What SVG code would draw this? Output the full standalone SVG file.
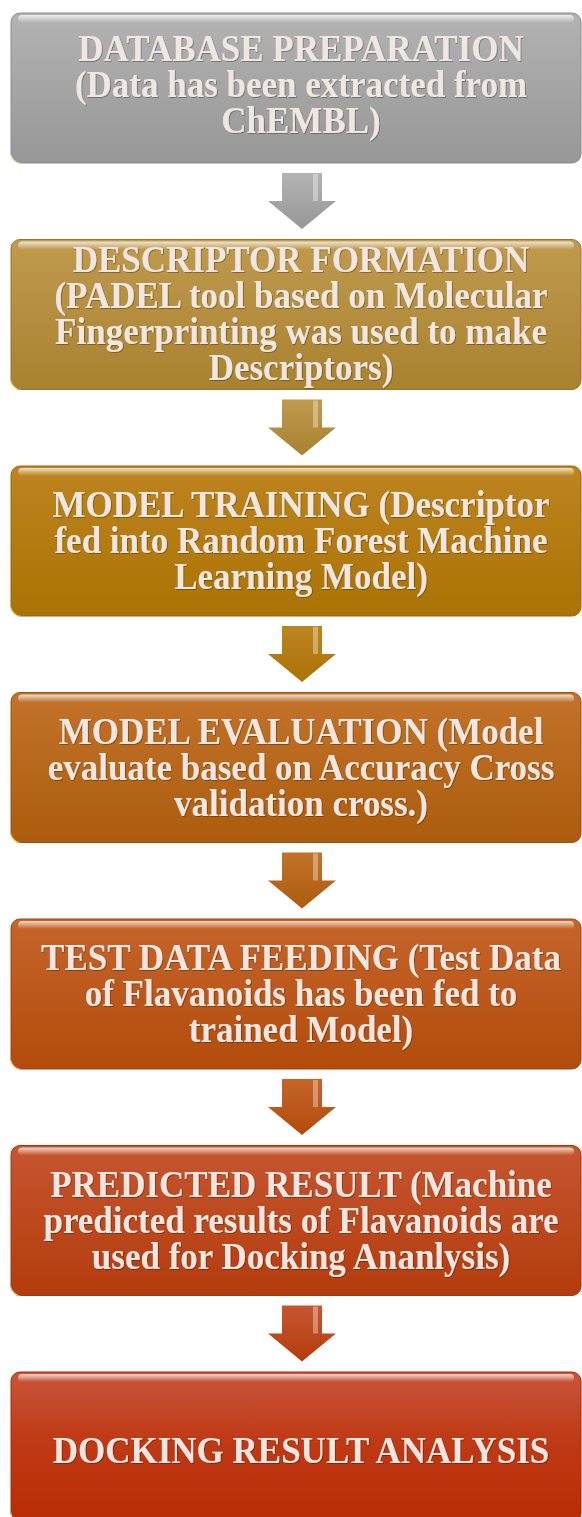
<svg xmlns="http://www.w3.org/2000/svg" width="582" height="1517" viewBox="0 0 582 1517">
  <style>
    .box { stroke-width: 1; }
    .curl { fill: #fff3b0; opacity: 0.85; }
    .label { font-family: "Liberation Serif", "Times New Roman", serif; font-weight: bold; font-size: 35px; fill: #f1e7e2; text-anchor: middle; filter: url(#txtShadow); }
    .shine { fill: #ffffff; opacity: 0.35; }
  </style>
  <defs>
    <filter id="txtShadow" x="-5%" y="-20%" width="110%" height="140%">
      <feDropShadow dx="0.8" dy="0.8" stdDeviation="0.7" flood-color="#000000" flood-opacity="0.35"/>
    </filter>
    <linearGradient id="gGray" x1="0" y1="0" x2="0" y2="1">
      <stop offset="0" stop-color="#b3b3b3"/><stop offset="1" stop-color="#979797"/>
    </linearGradient>
    <linearGradient id="gTan" x1="0" y1="0" x2="0" y2="1">
      <stop offset="0" stop-color="#c09a4e"/><stop offset="1" stop-color="#a9822f"/>
    </linearGradient>
    <linearGradient id="gGold" x1="0" y1="0" x2="0" y2="1">
      <stop offset="0" stop-color="#bd8420"/><stop offset="1" stop-color="#ab7304"/>
    </linearGradient>
    <linearGradient id="gAmber" x1="0" y1="0" x2="0" y2="1">
      <stop offset="0" stop-color="#c2732a"/><stop offset="1" stop-color="#ac5c0c"/>
    </linearGradient>
    <linearGradient id="gOrange" x1="0" y1="0" x2="0" y2="1">
      <stop offset="0" stop-color="#c6642a"/><stop offset="1" stop-color="#b24c0c"/>
    </linearGradient>
    <linearGradient id="gRust" x1="0" y1="0" x2="0" y2="1">
      <stop offset="0" stop-color="#c65530"/><stop offset="1" stop-color="#b33c0c"/>
    </linearGradient>
    <linearGradient id="gRed" x1="0" y1="0" x2="0" y2="1">
      <stop offset="0" stop-color="#c9553a"/><stop offset="0.45" stop-color="#bf3a16"/><stop offset="1" stop-color="#b82c04"/>
    </linearGradient>
    <linearGradient id="glossGrad" x1="0" y1="0" x2="0" y2="1">
      <stop offset="0" stop-color="#ffffff" stop-opacity="0.75"/><stop offset="1" stop-color="#ffffff" stop-opacity="0"/>
    </linearGradient>
    <path id="arrowShape" d="M-20,0 H20 V28 H34 L0,56 L-34,28 H-20 Z"/>
  </defs>

  <rect width="582" height="1517" fill="#ffffff"/>

  <!-- connectors: block arrows between steps -->
  <g id="connectors">
    <g transform="translate(302,173)">
      <use href="#arrowShape" fill="url(#gGray)"/>
      <rect class="shine" x="11" y="1" width="5" height="27"/>
    </g>
    <g transform="translate(302,399.5)">
      <use href="#arrowShape" fill="url(#gTan)"/>
      <rect class="shine" x="11" y="1" width="5" height="27"/>
    </g>
    <g transform="translate(302,626)">
      <use href="#arrowShape" fill="url(#gGold)"/>
      <rect class="shine" x="11" y="1" width="5" height="27"/>
    </g>
    <g transform="translate(302,852.5)">
      <use href="#arrowShape" fill="url(#gAmber)"/>
      <rect class="shine" x="11" y="1" width="5" height="27"/>
    </g>
    <g transform="translate(302,1079)">
      <use href="#arrowShape" fill="url(#gOrange)"/>
      <rect class="shine" x="11" y="1" width="5" height="27"/>
    </g>
    <g transform="translate(302,1305.5)">
      <use href="#arrowShape" fill="url(#gRust)"/>
      <rect class="shine" x="11" y="1" width="5" height="27"/>
    </g>
  </g>

  <g id="step1">
    <rect class="box" x="11" y="13" width="570" height="150" rx="9" fill="url(#gGray)" stroke="#8c8c8c"/>
    <rect x="18" y="15" width="556" height="8" rx="4" fill="url(#glossGrad)"/>
    <path class="curl" d="M11,152 a11,11 0 0 0 11,11 h-4 a7,7 0 0 1 -7,-7 z"/>
    <text class="label" transform="translate(301,61) scale(1,1.1)">DATABASE PREPARATION</text>
    <text class="label" transform="translate(301,97) scale(1,1.1)">(Data has been extracted from</text>
    <text class="label" transform="translate(301,133) scale(1,1.1)">ChEMBL)</text>
  </g>

  <g id="step2">
    <rect class="box" x="11" y="239.5" width="570" height="150" rx="9" fill="url(#gTan)" stroke="#9a7428"/>
    <rect x="18" y="241.5" width="556" height="8" rx="4" fill="url(#glossGrad)"/>
    <path class="curl" d="M11,378.5 a11,11 0 0 0 11,11 h-4 a7,7 0 0 1 -7,-7 z"/>
    <text class="label" transform="translate(301,272) scale(1,1.1)">DESCRIPTOR FORMATION</text>
    <text class="label" transform="translate(301,308) scale(1,1.1)">(PADEL tool based on Molecular</text>
    <text class="label" transform="translate(301,344) scale(1,1.1)">Fingerprinting was used to make</text>
    <text class="label" transform="translate(301,380) scale(1,1.1)">Descriptors)</text>
  </g>

  <g id="step3">
    <rect class="box" x="11" y="466" width="570" height="150" rx="9" fill="url(#gGold)" stroke="#9a6804"/>
    <rect x="18" y="468" width="556" height="8" rx="4" fill="url(#glossGrad)"/>
    <path class="curl" d="M11,605 a11,11 0 0 0 11,11 h-4 a7,7 0 0 1 -7,-7 z"/>
    <text class="label" transform="translate(301,517) scale(1,1.1)">MODEL TRAINING (Descriptor</text>
    <text class="label" transform="translate(301,553) scale(1,1.1)">fed into Random Forest Machine</text>
    <text class="label" transform="translate(301,589) scale(1,1.1)">Learning Model)</text>
  </g>

  <g id="step4">
    <rect class="box" x="11" y="692.5" width="570" height="150" rx="9" fill="url(#gAmber)" stroke="#9c520a"/>
    <rect x="18" y="694.5" width="556" height="8" rx="4" fill="url(#glossGrad)"/>
    <path class="curl" d="M11,831.5 a11,11 0 0 0 11,11 h-4 a7,7 0 0 1 -7,-7 z"/>
    <text class="label" transform="translate(301,743.5) scale(1,1.1)">MODEL EVALUATION (Model</text>
    <text class="label" transform="translate(301,779.5) scale(1,1.1)">evaluate based on Accuracy Cross</text>
    <text class="label" transform="translate(301,815.5) scale(1,1.1)">validation cross.)</text>
  </g>

  <g id="step5">
    <rect class="box" x="11" y="919" width="570" height="150" rx="9" fill="url(#gOrange)" stroke="#a2440a"/>
    <rect x="18" y="921" width="556" height="8" rx="4" fill="url(#glossGrad)"/>
    <path class="curl" d="M11,1058 a11,11 0 0 0 11,11 h-4 a7,7 0 0 1 -7,-7 z"/>
    <text class="label" transform="translate(301,970) scale(1,1.1)">TEST DATA FEEDING (Test Data</text>
    <text class="label" transform="translate(301,1006) scale(1,1.1)">of Flavanoids has been fed to</text>
    <text class="label" transform="translate(301,1042) scale(1,1.1)">trained Model)</text>
  </g>

  <g id="step6">
    <rect class="box" x="11" y="1145.5" width="570" height="150" rx="9" fill="url(#gRust)" stroke="#a3360a"/>
    <rect x="18" y="1147.5" width="556" height="8" rx="4" fill="url(#glossGrad)"/>
    <path class="curl" d="M11,1284.5 a11,11 0 0 0 11,11 h-4 a7,7 0 0 1 -7,-7 z"/>
    <text class="label" transform="translate(301,1196.5) scale(1,1.1)">PREDICTED RESULT (Machine</text>
    <text class="label" transform="translate(301,1232.5) scale(1,1.1)">predicted results of Flavanoids are</text>
    <text class="label" transform="translate(301,1268.5) scale(1,1.1)">used for Docking Ananlysis)</text>
  </g>

  <g id="step7">
    <rect class="box" x="11" y="1372" width="570" height="150" rx="9" fill="url(#gRed)" stroke="#a82a06"/>
    <rect x="18" y="1374" width="556" height="8" rx="4" fill="url(#glossGrad)"/>
    <path class="curl" d="M11,1511 a11,11 0 0 0 11,11 h-4 a7,7 0 0 1 -7,-7 z"/>
    <text class="label" transform="translate(301,1463) scale(1,1.1)">DOCKING RESULT ANALYSIS</text>
  </g>
</svg>
